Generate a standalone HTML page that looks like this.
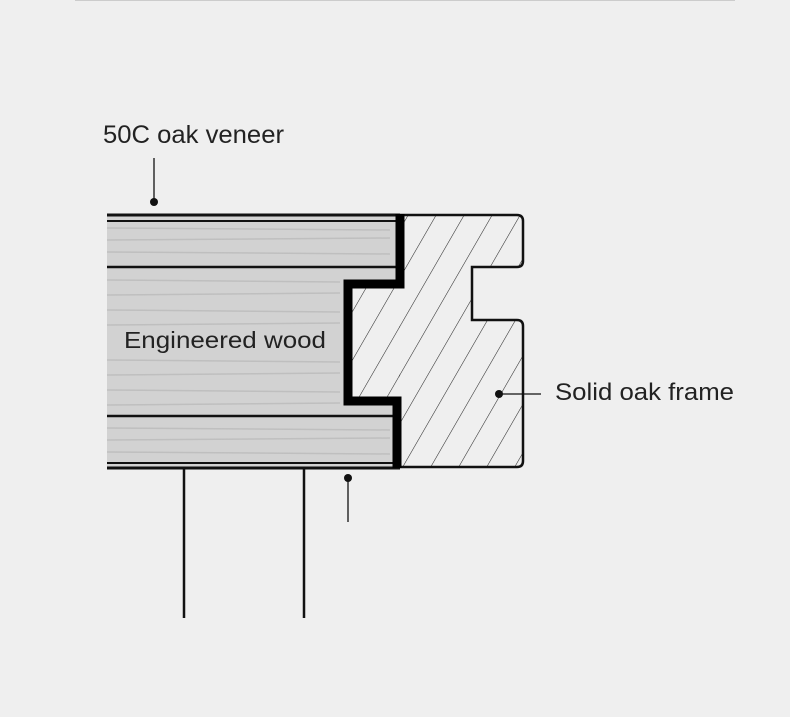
<!DOCTYPE html>
<html><head><style>
html,body{margin:0;padding:0;background:#efefef;}
body{width:790px;height:717px;overflow:hidden;position:relative;font-family:"Liberation Sans","DejaVu Sans",sans-serif;}
</style></head><body>
<svg width="790" height="717" viewBox="0 0 790 717" xmlns="http://www.w3.org/2000/svg" style="position:absolute;left:0;top:0">
<defs>
<pattern id="hatch" patternUnits="userSpaceOnUse" width="28" height="48" patternTransform="skewX(-30)">
<line x1="0" y1="0" x2="0" y2="48" stroke="#222" stroke-width="1.2"/>
</pattern>
<clipPath id="frame">
<path d="M396 215 H517 Q523 215 523 221 V261 Q523 267 517 267 H472 V320 H517 Q523 320 523 326 V461 Q523 467 517 467 H396 Z"/>
</clipPath>
</defs>
<line x1="75" y1="0.5" x2="735" y2="0.5" stroke="#ccc" stroke-width="1"/>
<rect x="107" y="216" width="290" height="251" fill="#d2d2d2"/>
<g stroke="#bdbdbd" stroke-width="1.5" opacity="0.9">
<line x1="107" y1="228" x2="390" y2="230"/><line x1="107" y1="240" x2="390" y2="238"/><line x1="107" y1="252" x2="390" y2="254"/>
<line x1="107" y1="280" x2="340" y2="282"/><line x1="107" y1="295" x2="340" y2="293"/><line x1="107" y1="310" x2="340" y2="312"/>
<line x1="107" y1="325" x2="340" y2="323"/><line x1="107" y1="360" x2="340" y2="362"/><line x1="107" y1="375" x2="340" y2="373"/>
<line x1="107" y1="390" x2="340" y2="392"/><line x1="107" y1="405" x2="340" y2="403"/>
<line x1="107" y1="428" x2="390" y2="430"/><line x1="107" y1="440" x2="390" y2="438"/><line x1="107" y1="452" x2="390" y2="454"/>
</g>
<path d="M396 215 H517 Q523 215 523 221 V261 Q523 267 517 267 H472 V320 H517 Q523 320 523 326 V461 Q523 467 517 467 H396 Z" fill="#efefef"/>
<rect x="350" y="215" width="180" height="255" fill="url(#hatch)" clip-path="url(#frame)"/>
<path d="M400 285 H348 V401 H398 V467" fill="#efefef" stroke="none"/>
<rect x="350" y="287" width="50" height="112" fill="url(#hatch)"/>
<path d="M396 215 H517 Q523 215 523 221 V261 Q523 267 517 267 H472 V320 H517 Q523 320 523 326 V461 Q523 467 517 467 H396" fill="none" stroke="#111" stroke-width="2.5"/>
<line x1="107" y1="215" x2="400" y2="215" stroke="#111" stroke-width="3"/>
<line x1="107" y1="221" x2="400" y2="221" stroke="#111" stroke-width="2"/>
<line x1="107" y1="267" x2="400" y2="267" stroke="#111" stroke-width="2.5"/>
<line x1="107" y1="416" x2="398" y2="416" stroke="#111" stroke-width="2.5"/>
<line x1="107" y1="463" x2="398" y2="463" stroke="#111" stroke-width="2"/>
<line x1="107" y1="468" x2="400" y2="468" stroke="#111" stroke-width="3"/>
<path d="M400 214 V284 H348 V401 H397 V468" fill="none" stroke="#000" stroke-width="9"/>
<line x1="184" y1="468" x2="184" y2="618" stroke="#111" stroke-width="2.5"/>
<line x1="304" y1="468" x2="304" y2="618" stroke="#111" stroke-width="2.5"/>
<line x1="154" y1="158" x2="154" y2="201" stroke="#111" stroke-width="1.3"/>
<circle cx="154" cy="202" r="4" fill="#111"/>
<line x1="348" y1="478" x2="348" y2="522" stroke="#111" stroke-width="1.3"/>
<circle cx="348" cy="478" r="4" fill="#111"/>
<line x1="499" y1="394" x2="541" y2="394" stroke="#111" stroke-width="1.3"/>
<circle cx="499" cy="394" r="4" fill="#111"/>
<text x="103" y="143" font-size="25" fill="#222" textLength="181" lengthAdjust="spacingAndGlyphs">50C oak veneer</text>
<text x="124" y="348" font-size="23" fill="#222" textLength="202" lengthAdjust="spacingAndGlyphs">Engineered wood</text>
<text x="555" y="400" font-size="24" fill="#222" textLength="179" lengthAdjust="spacingAndGlyphs">Solid oak frame</text>
</svg>
</body></html>
